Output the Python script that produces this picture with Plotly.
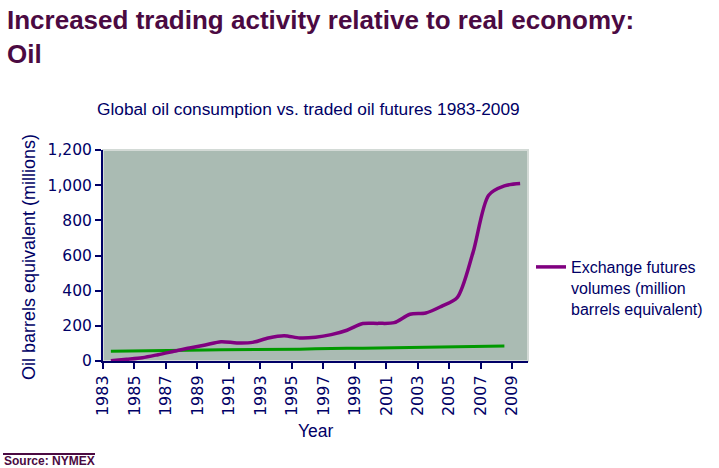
import plotly.graph_objects as go

# ---- data ----
years_fut = list(range(1983, 2010))
futures = [2, 10, 19, 36, 55, 74, 91, 110, 103, 106, 131, 144, 131, 135, 150,
           175, 213, 214, 218, 266, 273, 311, 360, 615, 943, 996, 1009]
years_cons = list(range(1983, 2009))
consumption = [55, 57, 58, 59, 60, 62, 63, 64, 64, 65, 65, 66, 67, 69, 72,
               72, 73, 74, 75, 76, 77, 80, 83, 84, 84, 85]
tick_years = list(range(1983, 2010, 2))
y_ticks = [0, 200, 400, 600, 800, 1000, 1200]

NAVY = "#000066"
PURPLE_T = "#4B0A42"

L, R, T, B = 103, 191, 150, 107
W, H = 719, 468
PW, PH = W - L - R, H - T - B


def px2x(px):
    return (px - L) / PW


def py2y(py):
    return (H - B - py) / PH


fig = go.Figure()
# category centring: each year's value sits mid-way through its year
fig.add_trace(go.Scatter(
    x=[y + 0.5 for y in years_cons], y=consumption, mode="lines",
    line=dict(color="#009900", width=3), showlegend=False,
    name="Global oil consumption"))
fig.add_trace(go.Scatter(
    x=[y + 0.5 for y in years_fut], y=futures, mode="lines",
    line=dict(color="#800080", width=3.5, shape="spline", smoothing=0.8),
    name="Exchange futures<br>volumes (million<br>barrels equivalent)"))

fig.update_layout(
    width=W, height=H,
    margin=dict(l=L, r=R, t=T, b=B, autoexpand=False),
    paper_bgcolor="white",
    plot_bgcolor="#AABBB3",
    font=dict(family="Liberation Sans, Arial, sans-serif", color=NAVY),
    showlegend=True,
    legend=dict(
        x=px2x(531), y=py2y(250), xanchor="left", yanchor="top",
        xref="paper", yref="paper",
        font=dict(family="Liberation Sans, Arial, sans-serif", size=16, color=NAVY),
        bgcolor="rgba(0,0,0,0)", itemwidth=30, valign="top",
        tracegroupgap=0,
    ),
    xaxis=dict(
        range=[1983, 2010], tickmode="array", tickvals=tick_years,
        ticktext=[str(y) for y in tick_years], tickangle=-90,
        showgrid=False, zeroline=False, showline=True, linecolor=NAVY,
        linewidth=2, ticks="outside", ticklen=6, tickwidth=1.5, tickcolor=NAVY,
        tickfont=dict(family="DejaVu Sans, Verdana, sans-serif", size=16, color=NAVY),
    ),
    yaxis=dict(
        range=[0, 1200], tickmode="array", tickvals=y_ticks,
        ticktext=[f"{v:,}" for v in y_ticks],
        showgrid=False, zeroline=False, showline=True, linecolor=NAVY,
        linewidth=2, ticks="outside", ticklen=6, tickwidth=1.5, tickcolor=NAVY,
        tickfont=dict(family="DejaVu Sans, Verdana, sans-serif", size=15.5, color=NAVY),
    ),
)

# light border of plot area (top/right)
fig.add_shape(type="rect", xref="paper", yref="paper", x0=0, x1=1, y0=0, y1=1,
              line=dict(color="#D3DAD6", width=2), layer="below")

ann = []
ann.append(dict(
    text="<b>Increased trading activity relative to real economy:<br>Oil</b>",
    x=px2x(5), y=py2y(3), xref="paper", yref="paper", xanchor="left",
    yanchor="top", align="left", showarrow=False,
    font=dict(family="Liberation Sans, Arial, sans-serif", size=26, color=PURPLE_T)))
ann.append(dict(
    text="Global oil consumption vs. traded oil futures 1983-2009",
    x=px2x(308), y=py2y(109), xref="paper", yref="paper", xanchor="center",
    yanchor="middle", showarrow=False,
    font=dict(family="Liberation Sans, Arial, sans-serif", size=17.3, color=NAVY)))
ann.append(dict(
    text="Oil barrels equivalent (millions)", textangle=-90,
    x=px2x(29), y=py2y(257), xref="paper", yref="paper", xanchor="center",
    yanchor="middle", showarrow=False,
    font=dict(family="Liberation Sans, Arial, sans-serif", size=18, color=NAVY)))
ann.append(dict(
    text="Year",
    x=px2x(316), y=py2y(431), xref="paper", yref="paper", xanchor="center",
    yanchor="middle", showarrow=False,
    font=dict(family="Liberation Sans, Arial, sans-serif", size=17.5, color=NAVY)))
ann.append(dict(
    text="<b>Source: NYMEX</b>",
    x=px2x(2), y=py2y(461), xref="paper", yref="paper", xanchor="left",
    yanchor="middle", showarrow=False,
    font=dict(family="Liberation Sans, Arial, sans-serif", size=12, color=PURPLE_T)))
fig.update_layout(annotations=ann)

fig.add_shape(type="line", xref="paper", yref="paper",
              x0=px2x(3), x1=px2x(95), y0=py2y(454), y1=py2y(454),
              line=dict(color=PURPLE_T, width=2))

fig.write_html("out.html")
